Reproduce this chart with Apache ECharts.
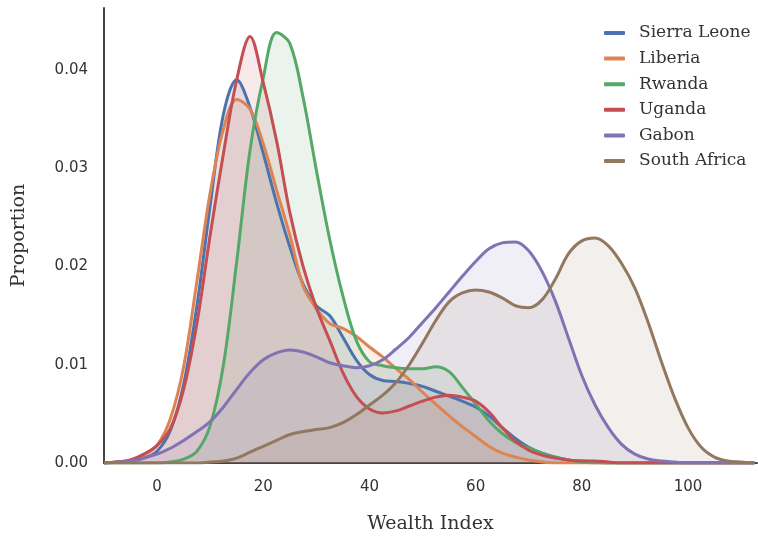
<!doctype html>
<html>
    <head>
        <meta charset="utf-8">
        <style>
            html, body { margin: 0; padding: 0; background: #fff; }
            #main { width: 758px; height: 537px; }
        </style>
    </head>
    <body>
        <div id="main"></div>
        <script src="https://cdn.jsdelivr.net/npm/echarts@6/dist/echarts.min.js"></script>
        <script>
            // wealth index grid (x), step 2.5
            var wealth = [-10, -7.5, -5, -2.5, 0, 2.5, 5, 7.5, 10, 12.5, 15, 17.5, 20, 22.5, 25, 27.5, 30, 32.5, 35, 37.5,
                40, 42.5, 45, 47.5, 50, 52.5, 55, 57.5, 60, 62.5, 65, 67.5, 70, 72.5, 75, 77.5, 80, 82.5, 85, 87.5,
                90, 92.5, 95, 97.5, 100, 102.5, 105, 107.5, 110, 112.5];

            var countries = ['Sierra Leone', 'Liberia', 'Rwanda', 'Uganda', 'Gabon', 'South Africa'];
            var colors = ['#4C72B0', '#DD8452', '#55A868', '#C44E52', '#8172B3', '#937860'];

            var sierraLeone = [0, 0.0001, 0.0002, 0.0005, 0.0012, 0.0033, 0.0080, 0.0160, 0.0262, 0.0355, 0.0390, 0.0362, 0.0315, 0.0265, 0.0220, 0.0182, 0.0160, 0.0150, 0.0128, 0.0105,
                0.0090, 0.0084, 0.0083, 0.0081, 0.0078, 0.0073, 0.0068, 0.0063, 0.0057, 0.0048, 0.0036, 0.0025, 0.0016, 0.0010, 0.0006, 0.0003, 0.0002, 0.0001, 0, 0,
                0, 0, 0, 0, 0, 0, 0, 0, 0, 0];
            var liberia = [0, 0.0001, 0.0003, 0.0008, 0.0018, 0.0045, 0.0098, 0.0185, 0.0275, 0.0340, 0.0370, 0.0360, 0.0325, 0.0278, 0.0232, 0.0180, 0.0157, 0.0142, 0.0137, 0.0129,
                0.0118, 0.0108, 0.0096, 0.0085, 0.0072, 0.0060, 0.0048, 0.0037, 0.0027, 0.0017, 0.0010, 0.0006, 0.0003, 0.0001, 0, 0, 0, 0, 0, 0,
                0, 0, 0, 0, 0, 0, 0, 0, 0, 0];
            var rwanda = [0, 0, 0, 0, 0, 0.0001, 0.0004, 0.0012, 0.0038, 0.0100, 0.0205, 0.0318, 0.0392, 0.0438, 0.0427, 0.0372, 0.0298, 0.0228, 0.0170, 0.0125,
                0.0103, 0.0099, 0.0097, 0.0096, 0.0096, 0.0098, 0.0093, 0.0077, 0.0060, 0.0043, 0.0030, 0.0021, 0.0015, 0.0010, 0.0006, 0.0003, 0.0001, 0, 0, 0,
                0, 0, 0, 0, 0, 0, 0, 0, 0, 0];
            var uganda = [0, 0.0001, 0.0003, 0.0009, 0.0018, 0.0035, 0.0075, 0.0142, 0.0232, 0.0315, 0.0390, 0.0434, 0.0387, 0.0328, 0.0255, 0.0200, 0.0158, 0.0125, 0.0092, 0.0068,
                0.0055, 0.0051, 0.0053, 0.0058, 0.0063, 0.0067, 0.0069, 0.0067, 0.0063, 0.0052, 0.0036, 0.0022, 0.0013, 0.0008, 0.0005, 0.0003, 0.0002, 0.0002, 0.0001, 0,
                0, 0, 0, 0, 0, 0, 0, 0, 0, 0];
            var gabon = [0, 0.0001, 0.0002, 0.0005, 0.0009, 0.0015, 0.0023, 0.0032, 0.0042, 0.0057, 0.0075, 0.0092, 0.0105, 0.0112, 0.0115, 0.0113, 0.0108, 0.0102, 0.0099, 0.0097,
                0.0099, 0.0105, 0.0116, 0.0128, 0.0143, 0.0158, 0.0174, 0.0190, 0.0205, 0.0218, 0.0224, 0.0225, 0.0216, 0.0195, 0.0165, 0.0127, 0.0089, 0.0059, 0.0036, 0.0019,
                0.0009, 0.0004, 0.0002, 0.0001, 0, 0, 0, 0, 0, 0];
            var southAfrica = [0, 0, 0, 0, 0, 0, 0, 0, 0.0001, 0.0002, 0.0005, 0.0011, 0.0017, 0.0023, 0.0029, 0.0032, 0.0034, 0.0036, 0.0041, 0.0049,
                0.0059, 0.0069, 0.0082, 0.0100, 0.0122, 0.0145, 0.0164, 0.0173, 0.0176, 0.0174, 0.0168, 0.0160, 0.0158, 0.0166, 0.0187, 0.0213, 0.0226, 0.0229, 0.0221, 0.0203,
                0.0178, 0.0143, 0.0103, 0.0066, 0.0036, 0.0016, 0.0006, 0.0002, 0.0001, 0];

            var xTicks = [0, 20, 40, 60, 80, 100];
            var yTicks = [0, 0.01, 0.02, 0.03, 0.04];

            var values = [sierraLeone, liberia, rwanda, uganda, gabon, southAfrica];

            var series = countries.map(function (name, i) {
                return {
                    name: name,
                    type: 'line',
                    smooth: 0.35,
                    showSymbol: false,
                    silent: true,
                    data: wealth.map(function (x, j) { return [x, values[i][j]]; }),
                    lineStyle: { width: 3, color: colors[i] },
                    itemStyle: { color: colors[i] },
                    areaStyle: { color: colors[i], opacity: 0.12 }
                };
            });

            var chart = echarts.init(document.getElementById('main'));
            chart.setOption({
                animation: false,
                grid: { left: 104, right: 1, top: 8, bottom: 74, containLabel: false, outerBoundsMode: 'none' },
                legend: {
                    orient: 'vertical',
                    left: 599,
                    top: 19,
                    icon: 'roundRect',
                    itemWidth: 21,
                    itemHeight: 4,
                    itemGap: 7.6,
                    data: countries,
                    textStyle: {
                        fontFamily: 'DejaVu Serif',
                        fontSize: 17,
                        color: '#333',
                        lineHeight: 18,
                        padding: [0, 0, 0, 9]
                    }
                },
                xAxis: {
                    type: 'value',
                    min: -10,
                    max: 113,
                    name: 'Wealth Index',
                    nameLocation: 'middle',
                    nameGap: 52,
                    nameTextStyle: { fontFamily: 'DejaVu Serif', fontSize: 19, color: '#333' },
                    axisLine: { lineStyle: { color: '#444', width: 2 } },
                    axisTick: { show: false },
                    splitLine: { show: false },
                    axisLabel: {
                        customValues: xTicks,
                        margin: 17,
                        fontFamily: 'DejaVu Sans',
                        fontSize: 15,
                        color: '#333'
                    }
                },
                yAxis: {
                    type: 'value',
                    min: 0,
                    max: 0.0463,
                    name: 'Proportion',
                    nameLocation: 'middle',
                    nameGap: 75,
                    nameTextStyle: { fontFamily: 'DejaVu Serif', fontSize: 19, color: '#333' },
                    axisLine: { show: true, onZero: false, lineStyle: { color: '#444', width: 2 } },
                    axisTick: { show: false },
                    splitLine: { show: false },
                    axisLabel: {
                        customValues: yTicks,
                        margin: 16,
                        fontFamily: 'DejaVu Sans',
                        fontSize: 15,
                        color: '#333',
                        formatter: function (v) { return v.toFixed(2); }
                    }
                },
                series: series
            });

            window.addEventListener('resize', function () {
                chart.resize();
            });
        </script>
    </body>
</html>
